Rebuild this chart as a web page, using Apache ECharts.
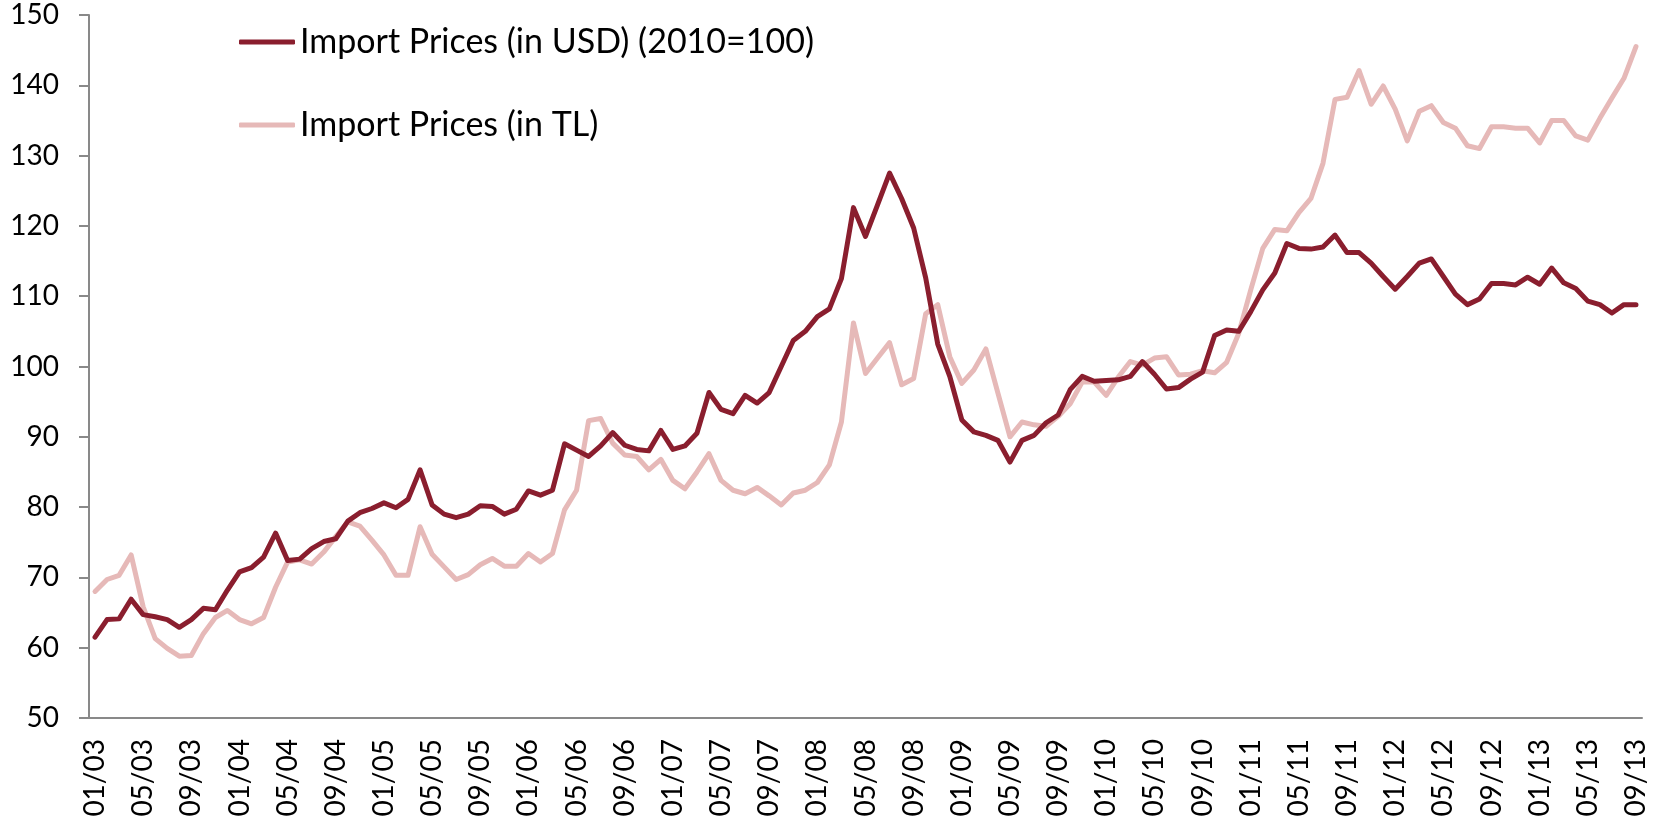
<!DOCTYPE html>
<html>
<head>
<meta charset="utf-8">
<title>Import Prices</title>
<script src="https://cdn.jsdelivr.net/npm/echarts@6/dist/echarts.min.js"></script>
<style>
    html, body { margin: 0; padding: 0; background: #fff; }
    #chart { width: 1669px; height: 820px; }
</style>
</head>
<body>
<div id="chart"></div>
<script>
// monthly index, 01/2003 .. 09/2013
const months = []
for (let y = 3; y <= 13; y++) {
    for (let m = 1; m <= 12; m++) {
        if (y === 13 && m > 9) break
        months.push(String(m).padStart(2, '0') + '/' + String(y).padStart(2, '0'))
    }
}

// Import Prices (in USD) (2010=100)
const usdPrices = [
    61.5, 64.0, 64.1, 66.9, 64.7, 64.4, 64.0, 62.9, 64.0, 65.6, 65.4, 68.2,
    70.8, 71.4, 72.9, 76.3, 72.4, 72.6, 74.1, 75.1, 75.5, 78.0, 79.2, 79.8,
    80.6, 79.9, 81.1, 85.3, 80.3, 79.0, 78.5, 79.0, 80.2, 80.1, 79.0, 79.7,
    82.3, 81.7, 82.4, 89.0, 88.1, 87.2, 88.7, 90.6, 88.8, 88.2, 88.0, 90.9,
    88.2, 88.7, 90.5, 96.3, 93.9, 93.3, 95.9, 94.8, 96.3, 100.0, 103.7, 105.0,
    107.1, 108.2, 112.5, 122.6, 118.5, 123.0, 127.5, 123.9, 119.7, 112.6, 103.2, 98.6,
    92.4, 90.7, 90.2, 89.5, 86.4, 89.5, 90.2, 92.0, 93.1, 96.7, 98.6, 97.9,
    98.0, 98.1, 98.6, 100.7, 98.9, 96.8, 97.0, 98.2, 99.2, 104.4, 105.2, 105.0,
    107.8, 110.9, 113.3, 117.5, 116.8, 116.7, 117.0, 118.7, 116.2, 116.2, 114.7, 112.8,
    111.0, 112.8, 114.7, 115.3, 112.8, 110.3, 108.8, 109.6, 111.8, 111.8, 111.6, 112.7,
    111.7, 114.0, 111.9, 111.1, 109.3, 108.8, 107.6, 108.8, 108.8
]

// Import Prices (in TL)
const tlPrices = [
    68.0, 69.7, 70.3, 73.2, 65.8, 61.3, 59.9, 58.8, 58.9, 62.0, 64.3, 65.3,
    64.0, 63.4, 64.3, 68.6, 72.2, 72.5, 71.9, 73.6, 75.8, 77.9, 77.3, 75.3,
    73.2, 70.3, 70.3, 77.2, 73.3, 71.5, 69.7, 70.4, 71.8, 72.7, 71.6, 71.6,
    73.4, 72.2, 73.4, 79.6, 82.4, 92.3, 92.6, 89.1, 87.4, 87.2, 85.3, 86.8,
    83.8, 82.6, 85.0, 87.6, 83.8, 82.4, 81.9, 82.8, 81.6, 80.3, 82.0, 82.4,
    83.5, 86.0, 92.1, 106.2, 99.0, 101.2, 103.4, 97.4, 98.3, 107.5, 108.8, 101.4,
    97.6, 99.5, 102.5, 96.2, 90.0, 92.1, 91.7, 91.5, 92.9, 94.7, 97.8, 97.8,
    95.9, 98.5, 100.7, 100.2, 101.2, 101.4, 98.8, 98.9, 99.4, 99.1, 100.6, 104.7,
    110.9, 116.8, 119.5, 119.3, 121.9, 123.9, 128.9, 138.0, 138.3, 142.1, 137.3, 139.9,
    136.6, 132.1, 136.3, 137.1, 134.7, 133.9, 131.4, 131.0, 134.1, 134.1, 133.9, 133.9,
    131.8, 135.0, 135.0, 132.8, 132.2, 135.3, 138.2, 141.0, 145.5
]

const seriesNames = ['Import Prices (in USD) (2010=100)', 'Import Prices (in TL)']
const seriesColors = ['#8a1e2e', '#e6b9b8']

const fontFamily = 'Lato'
const axisGray = '#898989'

const chart = echarts.init(document.getElementById('chart'))

const option = {
    animation: false,
    backgroundColor: '#fff',
    grid: {
        left: 89,
        right: 27,
        top: 15,
        bottom: 102
    },
    legend: {
        orient: 'vertical',
        left: 234,
        top: 19,
        itemWidth: 56,
        itemHeight: 5,
        itemGap: 47,
        icon: 'roundRect',
        textStyle: {
            fontFamily: fontFamily,
            fontSize: 34,
            color: '#000',
            lineHeight: 36
        },
        data: seriesNames
    },
    xAxis: {
        type: 'category',
        data: months,
        boundaryGap: true,
        axisLine: { lineStyle: { color: axisGray, width: 2 } },
        axisTick: {
            interval: 3,
            length: 9,
            lineStyle: { color: axisGray, width: 2 }
        },
        axisLabel: {
            interval: 3,
            rotate: 90,
            margin: 21,
            fontFamily: fontFamily,
            fontSize: 28,
            color: '#000'
        },
        splitLine: { show: false }
    },
    yAxis: {
        type: 'value',
        min: 50,
        max: 150,
        interval: 10,
        axisLine: { show: true, lineStyle: { color: axisGray, width: 2 } },
        axisTick: {
            show: true,
            length: 10,
            lineStyle: { color: axisGray, width: 2 }
        },
        axisLabel: {
            margin: 30,
            fontFamily: fontFamily,
            fontSize: 28,
            color: '#000'
        },
        splitLine: { show: false }
    },
    series: [
        {
            name: seriesNames[0],
            type: 'line',
            data: usdPrices,
            symbol: 'none',
            color: seriesColors[0],
            lineStyle: { width: 5, color: seriesColors[0], join: 'round', cap: 'round' },
            z: 3
        },
        {
            name: seriesNames[1],
            type: 'line',
            data: tlPrices,
            symbol: 'none',
            color: seriesColors[1],
            lineStyle: { width: 5, color: seriesColors[1], join: 'round', cap: 'round' },
            z: 2
        }
    ]
}

chart.setOption(option)
</script>
</body>
</html>
